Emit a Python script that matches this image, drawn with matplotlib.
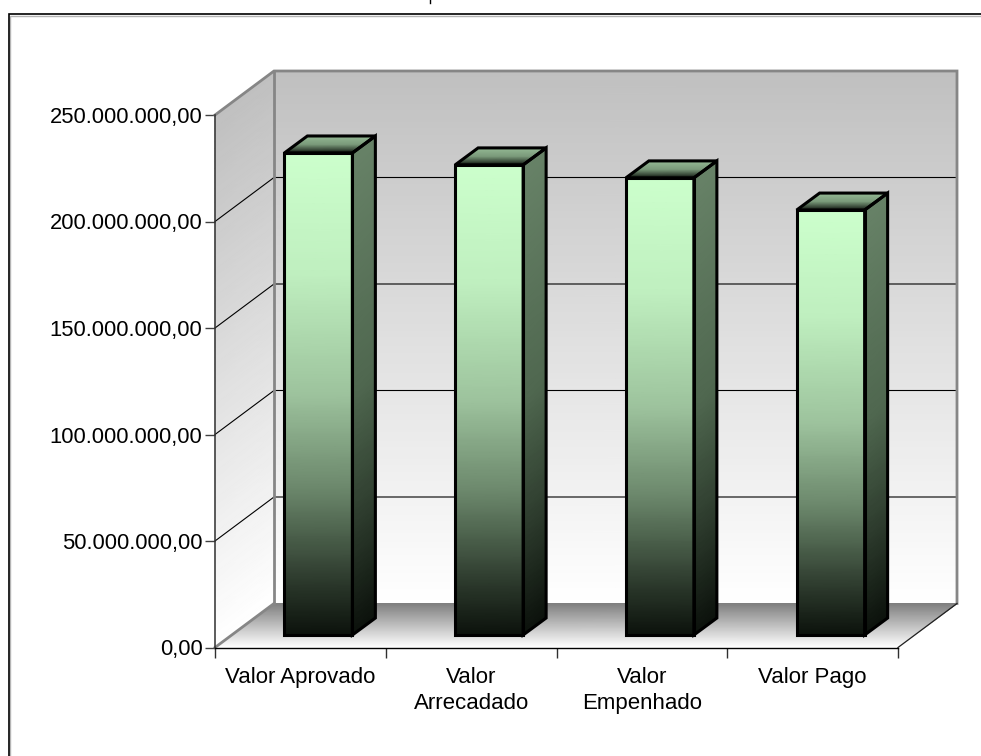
import numpy as np
import matplotlib
matplotlib.use('Agg')
import matplotlib.pyplot as plt
from matplotlib.colors import LinearSegmentedColormap
from matplotlib.patches import Polygon
from matplotlib.lines import Line2D

categories = ['Valor Aprovado', 'Valor\nArrecadado', 'Valor\nEmpenhado', 'Valor Pago']
values = [226.3e6, 220.7e6, 214.6e6, 199.5e6]
y_ticks = [0, 50e6, 100e6, 150e6, 200e6, 250e6]
y_tick_labels = ['0,00', '50.000.000,00', '100.000.000,00', '150.000.000,00',
                 '200.000.000,00', '250.000.000,00']

plt.rcParams['font.family'] = ['Liberation Sans', 'DejaVu Sans']

W, H = 981, 756
fig = plt.figure(figsize=(W / 100, H / 100), dpi=100, facecolor='white')
# front plane of the fake 3d box
left, right, top, bottom = 215, 898, 115, 647.5
ax = fig.add_axes([left / W, 1 - bottom / H, (right - left) / W, (bottom - top) / H])
ax.patch.set_alpha(0)

XMAX, YMAX = 4, 250e6
px = XMAX / (right - left)
py = YMAX / (bottom - top)

wall_dx, wall_dy = 59 * px, 44 * py
bar_off_x, bar_off_y = 18 * px, 12.5 * py
bar_dx, bar_dy = 23 * px, 17 * py
bar_w = 68 * px

wall_cmap = LinearSegmentedColormap.from_list('wall', ['#c0c0c0', '#ffffff'])
floor_cmap = LinearSegmentedColormap.from_list('floor', ['#7f7f7f', '#ffffff'])
front_cmap = LinearSegmentedColormap.from_list(
    'front', [(0, '#ccffcc'), (0.25, '#bfefbf'), (0.5, '#9dc39d'), (0.7, '#6a866a'),
              (0.88, '#2f3d2f'), (1, '#0c120c')])
side_cmap = LinearSegmentedColormap.from_list(
    'side', [(0, '#678267'), (0.5, '#4f674f'), (0.75, '#303f30'), (1, '#0c120c')])
cap_cmap = LinearSegmentedColormap.from_list(
    'cap', [(0, '#98bd98'), (0.55, '#7a9a7a'), (0.85, '#3c4c3c'), (1, '#141a14')])


def face(corners, cmap, zorder):
    # corners: top left, top right, bottom right, bottom left
    tl, tr, br, bl = [np.array(c, dtype=float) for c in corners]
    t = np.linspace(0, 1, 80)[:, None]
    xs = np.hstack([tl[0] + (bl[0] - tl[0]) * t, tr[0] + (br[0] - tr[0]) * t])
    ys = np.hstack([tl[1] + (bl[1] - tl[1]) * t, tr[1] + (br[1] - tr[1]) * t])
    c = np.hstack([t, t])
    ax.pcolormesh(xs, ys, c, cmap=cmap, vmin=0, vmax=1, shading='gouraud',
                  clip_on=False, zorder=zorder)


# walls and floor
face([(wall_dx, YMAX + wall_dy), (XMAX + wall_dx, YMAX + wall_dy),
      (XMAX + wall_dx, wall_dy), (wall_dx, wall_dy)], wall_cmap, 1)
face([(0, YMAX), (wall_dx, YMAX + wall_dy), (wall_dx, wall_dy), (0, 0)], wall_cmap, 1)
face([(wall_dx, wall_dy), (XMAX + wall_dx, wall_dy), (XMAX, 0), (0, 0)], floor_cmap, 1)

# grid lines, side wall then back wall
for y in y_ticks[1:-1]:
    ax.plot([0, wall_dx, XMAX + wall_dx], [y, y + wall_dy, y + wall_dy], color='black',
            lw=0.8, clip_on=False, zorder=1.5, solid_joinstyle='miter')

# box outline
gray = '#868686'
ax.plot([0, wall_dx, XMAX + wall_dx, XMAX + wall_dx],
        [YMAX, YMAX + wall_dy, YMAX + wall_dy, wall_dy],
        color=gray, lw=2.0, clip_on=False, zorder=1.6, solid_joinstyle='miter')
ax.plot([wall_dx, wall_dx], [YMAX + wall_dy, wall_dy], color=gray, lw=2.0,
        clip_on=False, zorder=1.6)
ax.plot([0, wall_dx], [0, wall_dy], color=gray, lw=2.0, clip_on=False, zorder=1.6)
ax.plot([XMAX, XMAX + wall_dx], [0, wall_dy], color='#202020', lw=0.9, clip_on=False, zorder=1.6)

# bars
for i, v in enumerate(values):
    x0 = i + 0.5 - bar_w / 2 + bar_off_x
    x1 = x0 + bar_w
    y0 = bar_off_y
    y1 = y0 + v
    front = [(x0, y1), (x1, y1), (x1, y0), (x0, y0)]
    side = [(x1, y1), (x1 + bar_dx, y1 + bar_dy), (x1 + bar_dx, y0 + bar_dy), (x1, y0)]
    cap = [(x0 + bar_dx, y1 + bar_dy), (x1 + bar_dx, y1 + bar_dy), (x1, y1), (x0, y1)]
    face(front, front_cmap, 3)
    face(side, side_cmap, 3)
    face(cap, cap_cmap, 3)
    for poly in (front, side, cap):
        ax.add_patch(Polygon(poly, closed=True, fill=False, edgecolor='black', lw=2.2,
                             joinstyle='miter', clip_on=False, zorder=3.2))

ax.set_xlim(0, XMAX)
ax.set_ylim(0, YMAX)

ax.spines['top'].set_visible(False)
ax.spines['right'].set_visible(False)
ax.spines['left'].set_color('#303030')
ax.spines['left'].set_linewidth(1.1)
ax.spines['bottom'].set_color('black')
ax.spines['bottom'].set_linewidth(1.0)

ax.set_yticks(y_ticks, labels=y_tick_labels)
ax.set_xticks(range(XMAX + 1), labels=[])
ax.set_xticks([i + 0.5 for i in range(XMAX)], labels=categories, minor=True)
ax.tick_params(axis='y', length=7, width=1, color='#404040', labelsize=15.8, pad=2)
ax.tick_params(axis='x', which='major', length=7, width=1, color='#303030')
ax.tick_params(axis='x', which='minor', length=0, labelsize=16, pad=14)
for lab in ax.get_xticklabels(minor=True):
    lab.set_linespacing(1.3)

# outer frame, runs off the right and bottom of the picture
for off, col, lw in ((1.5, '#b4b4b4', 1.0), (0, 'black', 1.2)):
    fig.add_artist(Line2D([(8.5 + off) / W, (8.5 + off) / W, 1],
                          [0, 1 - (14 + off) / H, 1 - (14 + off) / H],
                          color=col, lw=lw, solid_joinstyle='miter'))
# tail of the cut off title
fig.add_artist(Line2D([429.5 / W, 429.5 / W], [1, 1 - 2.5 / H], color='black', lw=1.0))

fig.savefig('out.png', dpi=100)
